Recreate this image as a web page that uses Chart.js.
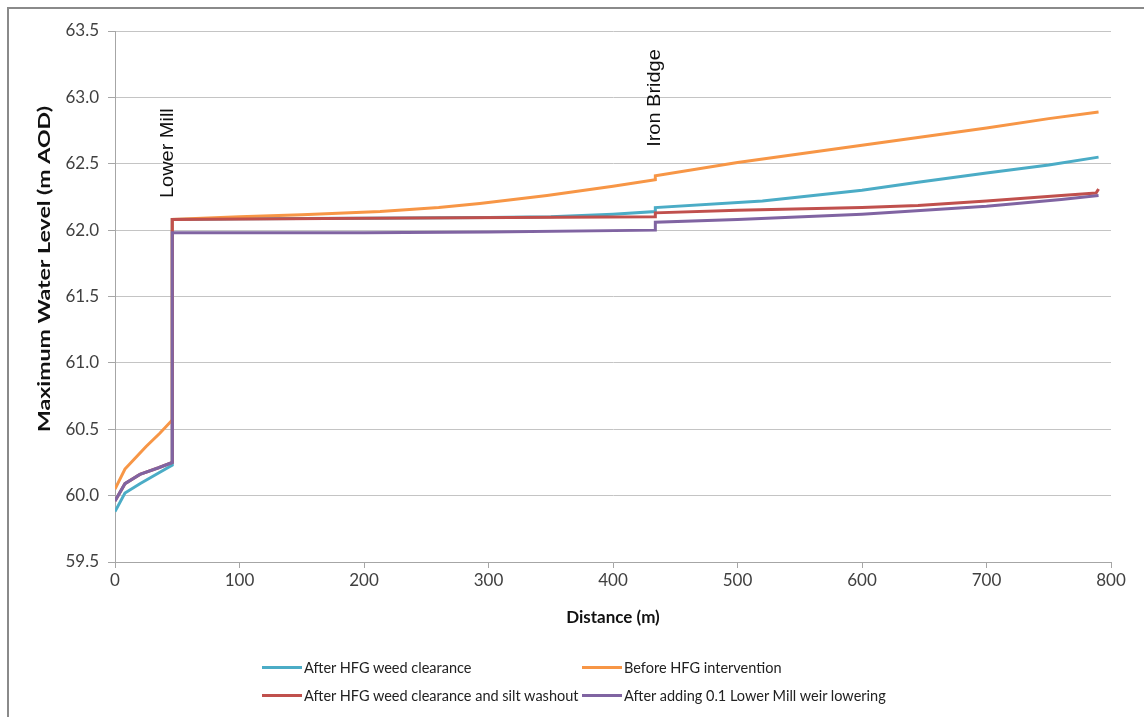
<!DOCTYPE html>
<html>
<head>
<meta charset="utf-8">
<script src="https://cdn.jsdelivr.net/npm/chart.js@4.4.1/dist/chart.umd.min.js"></script>
<style>
  html, body { margin:0; padding:0; background:#fff; }
  #wrap { position:relative; width:1144px; height:717px; overflow:hidden; background:#fff; }
  #frame { position:absolute; left:7px; top:7px; width:1200px; height:800px; border-left:2px solid #8a8a8a; border-top:2px solid #8a8a8a; pointer-events:none; }
  canvas { position:absolute; left:0; top:0; }
  .leg { position:absolute; font-family: Lato, "Open Sans", sans-serif; font-size:14.5px; color:#222; white-space:nowrap; display:flex; align-items:center; height:20px; }
  .leg i { display:inline-block; width:40px; height:3px; margin-right:2px; }
</style>
</head>
<body>
<div id="wrap">
  <canvas id="c" width="1144" height="717"></canvas>
  <div id="frame"></div>
  <div id="legend"></div>
</div>
<script>
// ---- Data ----
const seriesNames = [
  "After HFG weed clearance",
  "Before HFG intervention",
  "After HFG weed clearance and silt washout",
  "After adding 0.1 Lower Mill weir lowering"
];
const seriesColors = ["#4BACC6", "#F79646", "#C0504D", "#8064A2"];

const distWeed   = [0, 8, 20, 35, 46, 46, 100, 200, 300, 350, 400, 434, 434, 520, 600, 645, 700, 750, 790];
const levelWeed  = [59.88, 60.02, 60.09, 60.17, 60.23, 62.08, 62.085, 62.09, 62.095, 62.10, 62.12, 62.14, 62.17, 62.22, 62.30, 62.36, 62.43, 62.49, 62.55];

const distBefore  = [0, 8, 15, 25, 36, 46, 46, 100, 150, 213, 260, 293, 347, 400, 434, 434, 500, 600, 700, 750, 790];
const levelBefore = [60.05, 60.20, 60.27, 60.37, 60.47, 60.57, 62.08, 62.10, 62.115, 62.14, 62.17, 62.20, 62.26, 62.33, 62.38, 62.41, 62.51, 62.64, 62.77, 62.84, 62.89];

const distSilt   = [0, 8, 20, 35, 46, 46, 200, 434, 434, 500, 600, 645, 700, 760, 788, 790];
const levelSilt  = [59.96, 60.09, 60.16, 60.21, 60.25, 62.08, 62.09, 62.10, 62.13, 62.15, 62.17, 62.185, 62.22, 62.26, 62.28, 62.31];

const distWeir   = [0, 8, 20, 35, 46, 46, 200, 300, 434, 434, 500, 600, 700, 760, 790];
const levelWeir  = [59.96, 60.09, 60.16, 60.21, 60.25, 61.98, 61.98, 61.985, 62.00, 62.06, 62.08, 62.12, 62.18, 62.23, 62.26];

const siteNames     = ["Lower Mill", "Iron Bridge"];
const siteDistances = [42.6, 433.7];
const siteLabelLvls = [62.58, 62.995];

const xTitle = "Distance (m)";
const yTitle = "Maximum Water Level (m AOD)";

const xTickMin = 0, xTickMax = 800, xTickStep = 100;
const yTickMin = 59.5, yTickMax = 63.5, yTickStep = 0.5;

// ---- Build ----
function pts(xs, ys) { return xs.map((x, i) => ({ x: x, y: ys[i] })); }
const seriesData = [pts(distWeed, levelWeed), pts(distBefore, levelBefore), pts(distSilt, levelSilt), pts(distWeir, levelWeir)];
const drawOrder = [3, 2, 1, 0];

const datasets = seriesNames.map((n, i) => ({
  label: n,
  data: seriesData[i],
  borderColor: seriesColors[i],
  backgroundColor: seriesColors[i],
  borderWidth: 3,
  pointRadius: 0,
  tension: 0,
  fill: false,
  order: drawOrder[i]
}));

const annotPlugin = {
  id: 'annot',
  afterDatasetsDraw(chart) {
    const { ctx, scales: { x, y } } = chart;
    ctx.save();
    ctx.fillStyle = '#111';
    ctx.font = '19px "Liberation Sans", Arial, sans-serif';
    ctx.textAlign = 'center';
    ctx.textBaseline = 'middle';
    siteNames.forEach((t, i) => {
      ctx.save();
      ctx.translate(x.getPixelForValue(siteDistances[i]), y.getPixelForValue(siteLabelLvls[i]));
      ctx.rotate(-Math.PI / 2);
      ctx.scale(1.05, 1);
      ctx.fillText(t, 0, 0);
      ctx.restore();
    });
    // y axis title (centred beside the axis)
    ctx.save();
    ctx.font = 'bold 17px Lato, sans-serif';
    ctx.fillStyle = '#111';
    ctx.translate(45, 269);
    ctx.rotate(-Math.PI / 2);
    ctx.scale(1.36, 1);
    ctx.fillText(yTitle, 0, 0);
    ctx.restore();
    // x axis title
    ctx.save();
    ctx.font = 'bold 17px Lato, sans-serif';
    ctx.fillStyle = '#111';
    ctx.fillText(xTitle, (x.left + x.right) / 2, 618);
    ctx.restore();
    ctx.restore();
  }
};

const tickFont = { family: 'Lato, sans-serif', size: 17 };

new Chart(document.getElementById('c'), {
  type: 'line',
  data: { datasets },
  plugins: [annotPlugin],
  options: {
    responsive: false,
    animation: false,
    layout: { padding: { left: 0, right: 33, top: 31, bottom: 0 } },
    plugins: { legend: { display: false }, tooltip: { enabled: false } },
    scales: {
      x: {
        type: 'linear', min: xTickMin, max: xTickMax,
        ticks: { stepSize: xTickStep, font: tickFont, color: '#404040', padding: 2, maxRotation: 0 },
        grid: { drawOnChartArea: false, tickLength: 6, tickColor: '#a6a6a6' },
        border: { color: '#a6a6a6', width: 1 },
        afterFit(s) { s.height = 717 - 562; }
      },
      y: {
        type: 'linear', min: yTickMin, max: yTickMax,
        ticks: { stepSize: yTickStep, font: tickFont, color: '#404040', padding: 9, callback: v => v.toFixed(1) },
        grid: { color: '#c4c4c4', tickLength: 7, tickColor: '#a6a6a6' },
        border: { color: '#a6a6a6', width: 1 },
        afterFit(s) { s.width = 115; }
      }
    }
  }
});

// ---- HTML legend ----
const legPos = [[262, 657], [582, 657], [262, 685], [582, 685]];
const legEl = document.getElementById('legend');
seriesNames.forEach((n, i) => {
  const d = document.createElement('div');
  d.className = 'leg';
  d.style.left = legPos[i][0] + 'px';
  d.style.top = legPos[i][1] + 'px';
  const sw = document.createElement('i');
  sw.style.background = seriesColors[i];
  d.appendChild(sw);
  d.appendChild(document.createTextNode(n));
  legEl.appendChild(d);
});
</script>
</body>
</html>
